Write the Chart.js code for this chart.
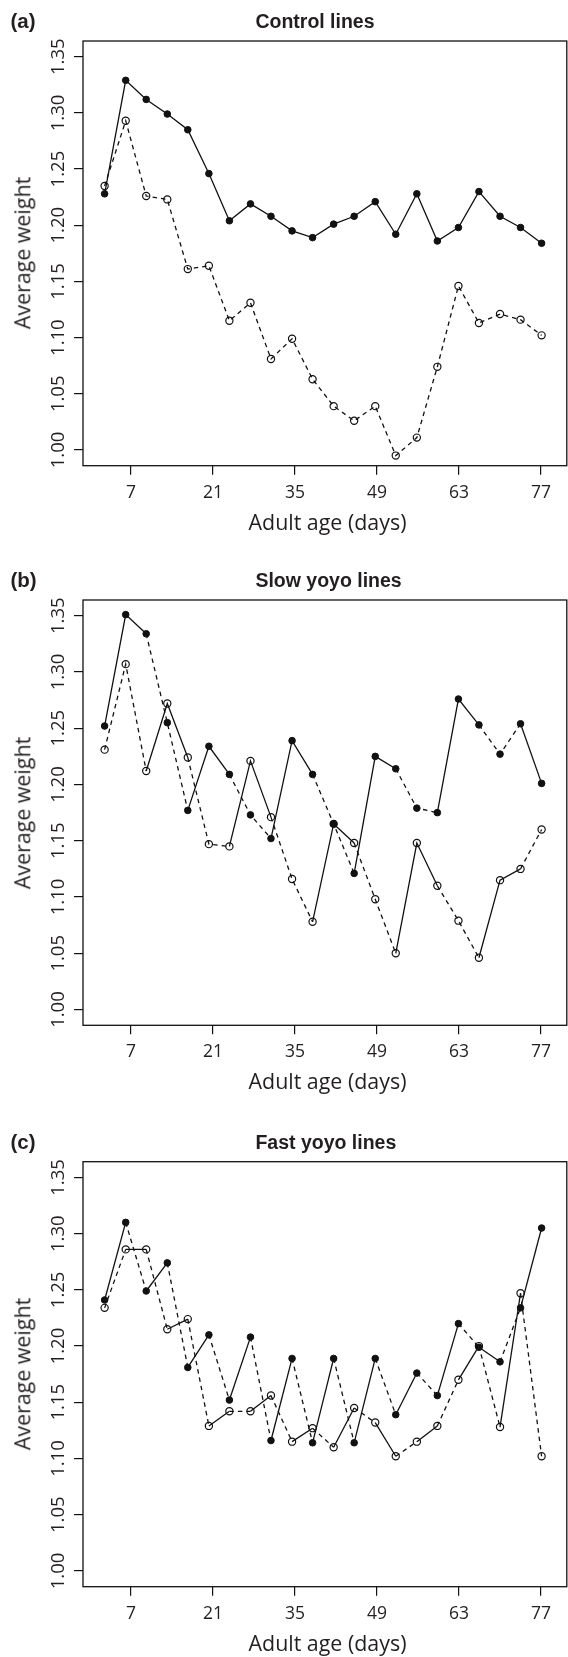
<!DOCTYPE html>
<html>
<head>
<meta charset="utf-8">
<script src="https://cdn.jsdelivr.net/npm/chart.js@4.4.1/dist/chart.umd.min.js"></script>
<style>
html,body{margin:0;padding:0;background:#fff;overflow:hidden;width:568px;height:1657px;}
.panel{position:absolute;left:0;}
canvas{display:block;}
.txt{position:absolute;white-space:nowrap;color:#231f20;line-height:1;}
.letter{font-family:"Liberation Sans",Arial,sans-serif;font-weight:bold;font-size:20.5px;}
.title{font-family:"Liberation Sans",Arial,sans-serif;font-weight:bold;font-size:19.5px;}
.axt{font-family:"Open Sans",sans-serif;font-size:21.4px;}
</style>
</head>
<body>
<script>
// ---- data ----
const ages = [2.5, 6.1, 9.6, 13.2, 16.7, 20.3, 23.8, 27.4, 30.9, 34.5, 38.0, 41.6, 45.1, 48.7, 52.2, 55.8, 59.3, 62.9, 66.4, 70.0, 73.5, 77.1];

const controlFilled = [1.228, 1.329, 1.312, 1.299, 1.285, 1.246, 1.204, 1.219, 1.208, 1.195, 1.189, 1.201, 1.208, 1.221, 1.192, 1.228, 1.186, 1.198, 1.230, 1.208, 1.198, 1.184];
const controlOpen   = [1.235, 1.293, 1.226, 1.223, 1.161, 1.164, 1.115, 1.131, 1.081, 1.099, 1.063, 1.039, 1.026, 1.039, 0.995, 1.011, 1.074, 1.146, 1.113, 1.121, 1.116, 1.102];

const slowFilled = [1.252, 1.351, 1.334, 1.255, 1.177, 1.234, 1.209, 1.173, 1.152, 1.239, 1.209, 1.165, 1.121, 1.225, 1.214, 1.179, 1.175, 1.276, 1.253, 1.227, 1.254, 1.201];
const slowOpen   = [1.231, 1.307, 1.212, 1.272, 1.224, 1.147, 1.145, 1.221, 1.171, 1.116, 1.078, 1.165, 1.148, 1.098, 1.050, 1.148, 1.110, 1.079, 1.046, 1.115, 1.125, 1.160];

const fastFilled = [1.241, 1.310, 1.249, 1.274, 1.181, 1.210, 1.152, 1.208, 1.116, 1.189, 1.114, 1.189, 1.114, 1.189, 1.139, 1.176, 1.156, 1.220, 1.199, 1.186, 1.234, 1.305];
const fastOpen   = [1.234, 1.286, 1.286, 1.215, 1.224, 1.129, 1.142, 1.142, 1.156, 1.115, 1.127, 1.110, 1.145, 1.132, 1.102, 1.115, 1.129, 1.170, 1.200, 1.128, 1.247, 1.102];

const xTickValues = [7, 21, 35, 49, 63, 77];
const yTickValues = [1.00, 1.05, 1.10, 1.15, 1.20, 1.25, 1.30, 1.35];

const panelLetters = ["(a)", "(b)", "(c)"];
const panelTitles = ["Control lines", "Slow yoyo lines", "Fast yoyo lines"];
const xAxisTitle = "Adult age (days)";
const yAxisTitle = "Average weight";

// ---- layout / style ----
const INK = "#231f20";
const CANVAS_W = 572;
const panels = [
  {top: 0,    h: 560, boxTop: 41,    boxBottom: 465.7, filled: controlFilled, open: controlOpen,
   dashFilled: k => false, dashOpen: k => true},
  {top: 560,  h: 560, boxTop: 600,   boxBottom: 1025.3, filled: slowFilled, open: slowOpen,
   dashFilled: k => (k % 4 === 2 || k % 4 === 3), dashOpen: k => !(k % 4 === 2 || k % 4 === 3)},
  {top: 1120, h: 537, boxTop: 1161.7, boxBottom: 1586.7, filled: fastFilled, open: fastOpen,
   dashFilled: k => (k % 2 === 1), dashOpen: k => (k % 2 === 0)}
];
const DASH = [4.5, 4];

const boxPlugin = {
  id: 'rbox',
  afterDraw(chart) {
    const {ctx, chartArea: a} = chart;
    ctx.save();
    ctx.strokeStyle = "#111";
    ctx.lineWidth = 1.3;
    ctx.strokeRect(a.left, a.top, a.right - a.left, a.bottom - a.top);
    ctx.restore();
  }
};
const yLabelPlugin = {
  id: 'ylabels',
  afterDraw(chart) {
    const {ctx} = chart;
    const ys = chart.scales.y;
    ctx.save();
    ctx.fillStyle = INK;
    ctx.font = '18.5px "Open Sans"';
    ctx.textAlign = 'center';
    ctx.textBaseline = 'middle';
    ys.ticks.forEach(t => {
      const y = ys.getPixelForValue(t.value);
      ctx.save();
      ctx.translate(58.5, y);
      ctx.rotate(-Math.PI / 2);
      ctx.fillText(t.value.toFixed(2), 0, 0);
      ctx.restore();
    });
    ctx.restore();
  }
};

function addText(cls, text, left, top, extra) {
  const d = document.createElement('div');
  d.className = 'txt ' + cls;
  d.textContent = text;
  d.style.left = left + 'px';
  d.style.top = top + 'px';
  if (extra) Object.assign(d.style, extra);
  document.body.appendChild(d);
  return d;
}

panels.forEach((p, idx) => {
  const wrap = document.createElement('div');
  wrap.className = 'panel';
  wrap.style.top = p.top + 'px';
  const c = document.createElement('canvas');
  c.width = CANVAS_W; c.height = p.h;
  c.style.width = CANVAS_W + 'px'; c.style.height = p.h + 'px';
  wrap.appendChild(c);
  document.body.appendChild(wrap);

  const relTop = p.boxTop - p.top;
  const relBottom = p.boxBottom - p.top;

  new Chart(c, {
    type: 'line',
    data: {
      datasets: [
        {
          data: ages.map((x, i) => ({x: x, y: p.filled[i]})),
          borderColor: '#111', borderWidth: 1.3, tension: 0, fill: false,
          pointRadius: 3.3, pointBorderWidth: 1, pointBackgroundColor: '#111', pointBorderColor: '#111',
          segment: {borderDash: ctx => p.dashFilled(ctx.p0DataIndex) ? DASH : []}
        },
        {
          data: ages.map((x, i) => ({x: x, y: p.open[i]})),
          borderColor: '#111', borderWidth: 1.3, tension: 0, fill: false,
          pointRadius: 3.6, pointBorderWidth: 1.2, pointBackgroundColor: 'rgba(0,0,0,0)', pointBorderColor: '#111',
          segment: {borderDash: ctx => p.dashOpen(ctx.p0DataIndex) ? DASH : []}
        }
      ]
    },
    options: {
      responsive: false, animation: false, devicePixelRatio: 1,
      layout: {padding: {top: relTop, left: 0, right: 0, bottom: 0}},
      plugins: {legend: {display: false}, tooltip: {enabled: false}, title: {display: false}},
      scales: {
        x: {
          type: 'linear', min: -1.19, max: 81.4,
          afterBuildTicks: s => { s.ticks = xTickValues.map(v => ({value: v})); },
          afterFit: s => { s.height = p.h - relBottom; },
          ticks: {autoSkip: false, maxRotation: 0, minRotation: 0, color: INK,
                  font: {family: 'Open Sans', size: 17.5}, padding: 7.5,
                  callback: v => String(v)},
          grid: {drawOnChartArea: false, drawTicks: true, tickLength: 9, color: '#111', lineWidth: 1.2},
          border: {display: false}
        },
        y: {
          type: 'linear', min: 0.986, max: 1.364,
          afterBuildTicks: s => { s.ticks = yTickValues.map(v => ({value: v})); },
          afterFit: s => { s.width = 83; },
          ticks: {display: false},
          grid: {drawOnChartArea: false, drawTicks: true, tickLength: 9, color: '#111', lineWidth: 1.2},
          border: {display: false}
        }
      }
    },
    plugins: [boxPlugin, yLabelPlugin]
  });

  // panel letter and title
  const titleCenterY = p.boxTop - 19.3;
  addText('letter', panelLetters[idx], 10.5, titleCenterY - 10.5);
  addText('title', panelTitles[idx], 255.4, titleCenterY - 9.75);
  // x axis title
  addText('axt', xAxisTitle, 327.5, p.boxBottom + 56, {transform: 'translate(-50%,-50%)'});
  // y axis title
  addText('axt', yAxisTitle, 21.7, (p.boxTop + p.boxBottom) / 2, {transform: 'translate(-50%,-50%) rotate(-90deg)'});
});
</script>
</body>
</html>
